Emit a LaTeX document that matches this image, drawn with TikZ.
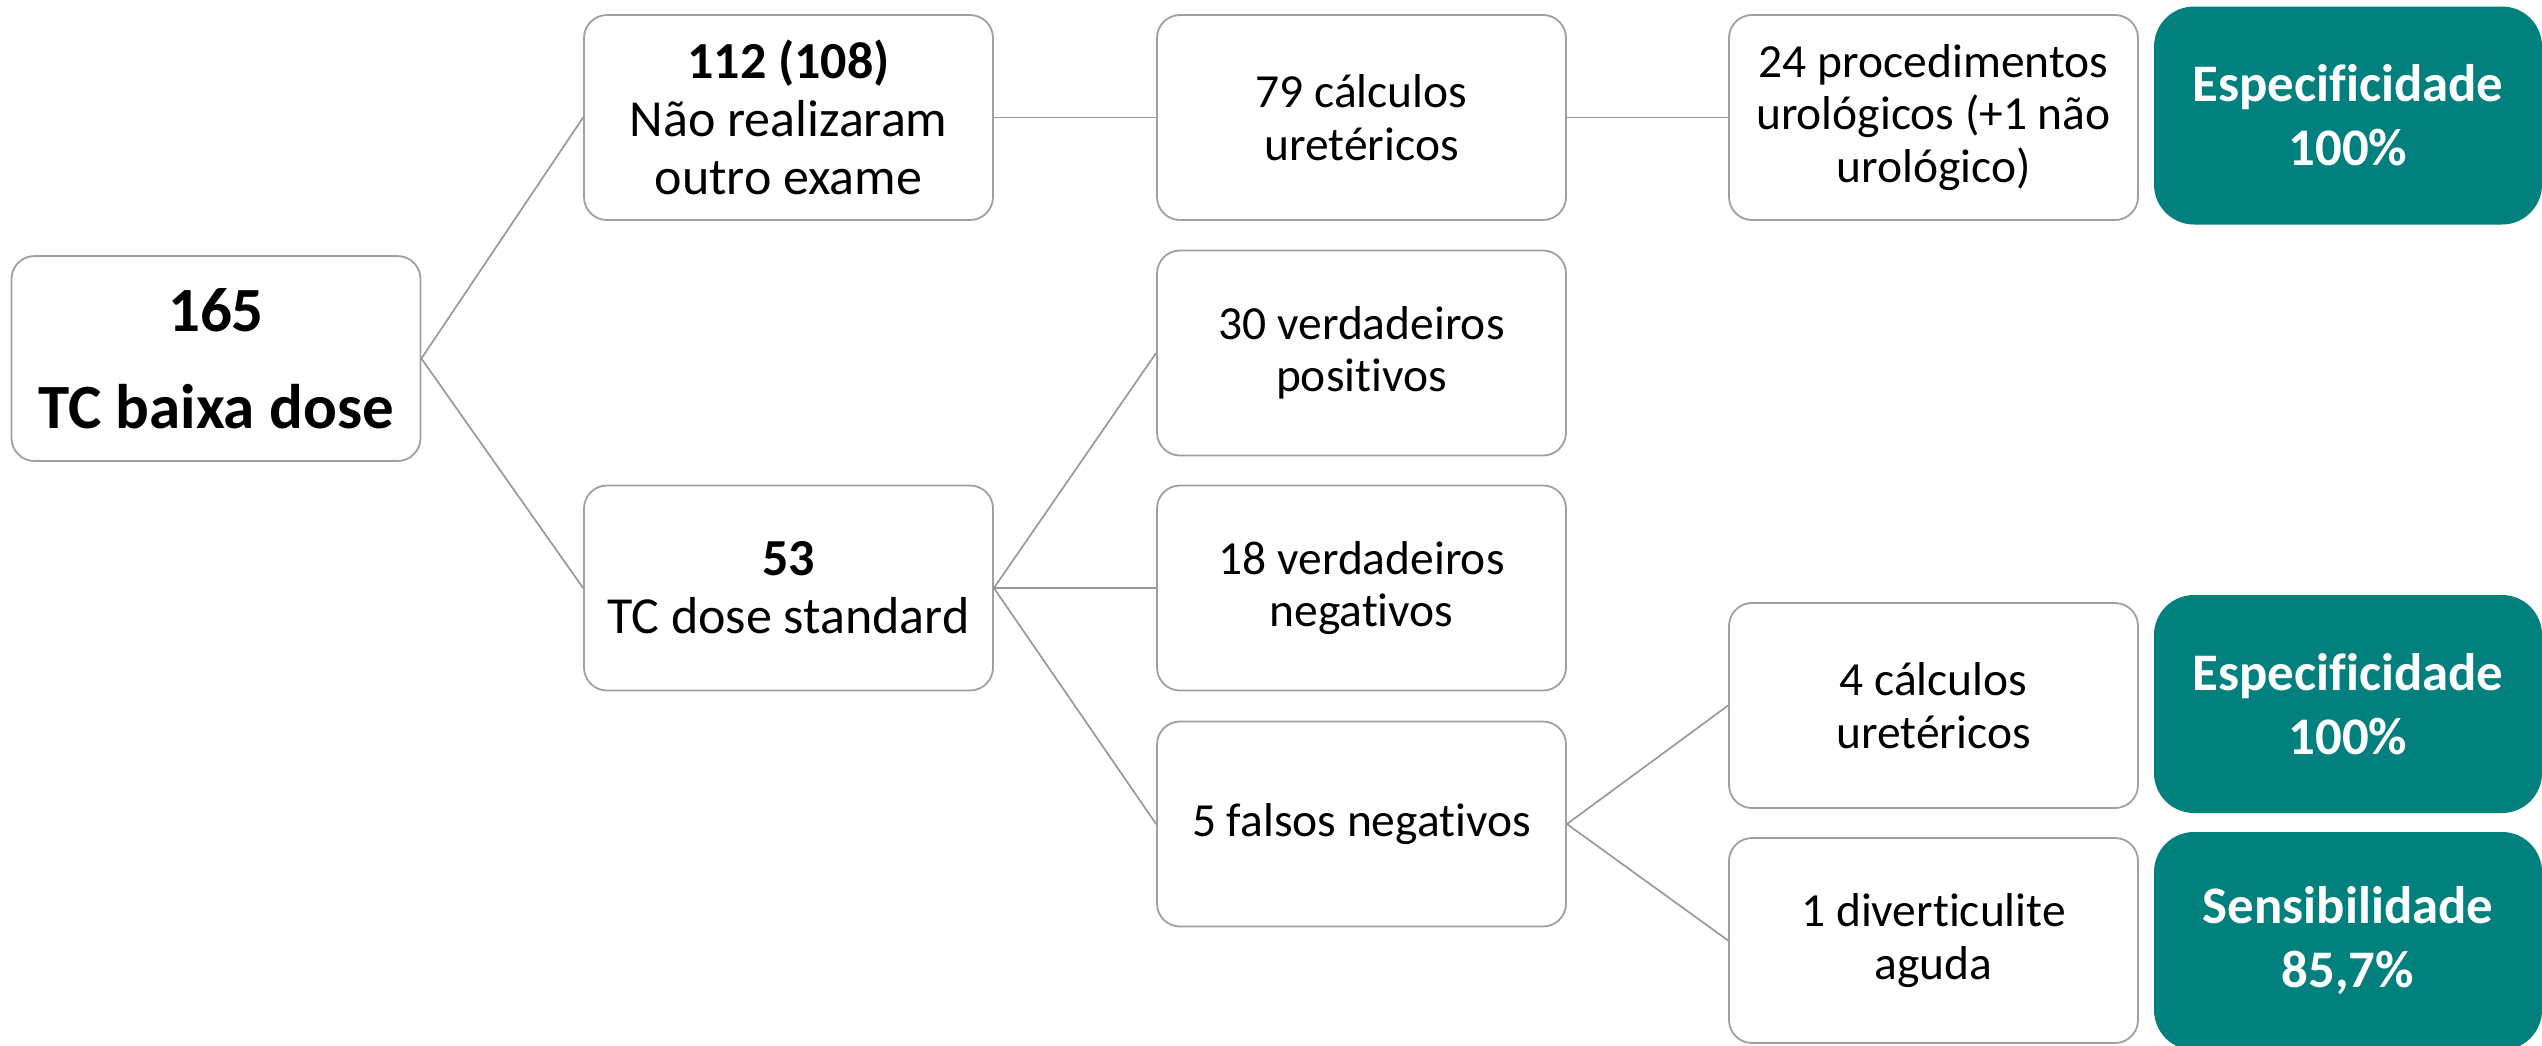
\documentclass[tikz,border=0pt]{standalone}
\usepackage{fontspec}
\setmainfont[Ligatures={NoCommon}]{Carlito}
\definecolor{boxgray}{HTML}{A0A0A0}
\definecolor{linegray}{HTML}{999999}
\definecolor{tealbox}{RGB}{2,128,126}
\begin{document}
\begin{tikzpicture}[x=0.5pt,y=-0.5pt,
  wbox/.style={draw=boxgray, line width=0.9pt, rounded corners=11.5pt, fill=white,
    minimum width=204.5pt, minimum height=102.5pt, align=center, inner sep=0pt, text=black},
  lvlone/.style={wbox, font=\fontsize{26pt}{29pt}\selectfont},
  lvltwo/.style={wbox, font=\fontsize{23.75pt}{26.25pt}\selectfont},
  rootbox/.style={wbox, font=\fontsize{31.5pt}{48.5pt}\selectfont\bfseries},
  tbox/.style={fill=tealbox, rounded corners=20pt, minimum width=194pt, minimum height=109pt,
    align=center, inner sep=0pt, text=white, font=\fontsize{26.4pt}{32pt}\selectfont\bfseries},
  conn/.style={draw=linegray, line width=0.85pt}]
\useasboundingbox (0,0) rectangle (2542,1045);
\clip (0,0) rectangle (2542,1045);
\fill[white] (0,0) rectangle (2542,1045);

\node[rootbox] (root) at (216,358.5) {165\\TC baixa dose};
\node[lvlone] (a) at (788.5,117.5) {\textbf{112 (108)}\\Não realizaram\\outro exame};
\node[lvlone] (b) at (788.5,588) {\textbf{53}\\TC dose standard};
\node[lvltwo] (c1) at (1361.5,117.5) {79 cálculos\\uretéricos};
\node[lvltwo] (c2) at (1361.5,353) {30 verdadeiros\\positivos};
\node[lvltwo] (c3) at (1361.5,588) {18 verdadeiros\\negativos};
\node[lvltwo] (c4) at (1361.5,824) {5 falsos negativos};
\node[lvltwo] (d1) at (1933.5,117.5) {24 procedimentos\\urológicos (+1 não\\urológico)};
\node[lvltwo] (d2) at (1933.5,705.5) {4 cálculos\\uretéricos};
\node[lvltwo] (d3) at (1933.5,940.5) {1 diverticulite\\aguda};
\node[tbox] (t1) at (2348,115.5) {Especificidade\\100\%};
\node[tbox] (t2) at (2348,704) {Especificidade\\100\%};
\node[tbox] (t3) at (2348,941) {Sensibilidade\\85,7\%};

\draw[conn] (root.east) -- (a.west);
\draw[conn] (root.east) -- (b.west);
\draw[conn] (a.east) -- (c1.west);
\draw[conn] (c1.east) -- (d1.west);
\draw[conn] (b.east) -- (c2.west);
\draw[conn] (b.east) -- (c3.west);
\draw[conn] (b.east) -- (c4.west);
\draw[conn] (c4.east) -- (d2.west);
\draw[conn] (c4.east) -- (d3.west);
\end{tikzpicture}
\end{document}
